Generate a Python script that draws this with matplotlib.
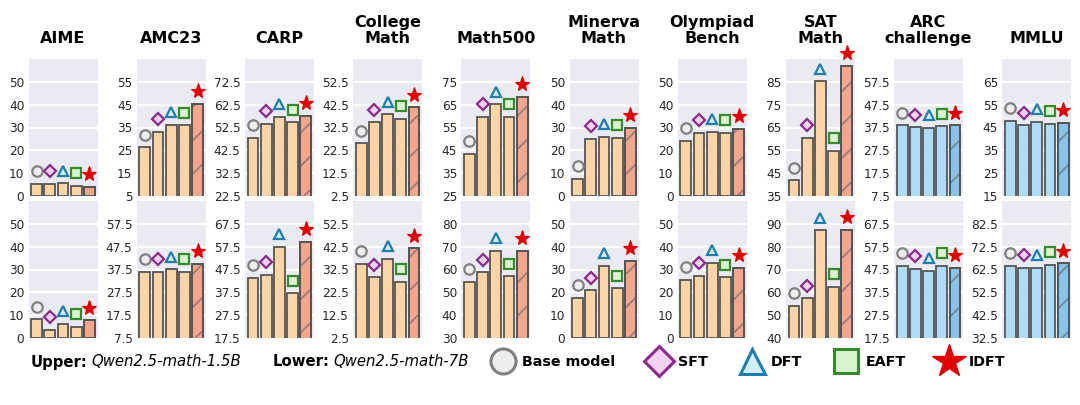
import matplotlib
matplotlib.use('Agg')
import matplotlib.pyplot as plt
import numpy as np
from matplotlib.lines import Line2D

methods = ['Base model', 'SFT', 'DFT', 'EAFT', 'IDFT']
benchmarks = ['AIME', 'AMC23', 'CARP', 'College\nMath', 'Math500', 'Minerva\nMath',
              'Olympiad\nBench', 'SAT\nMath', 'ARC\nchallenge', 'MMLU']
is_general = [False, False, False, False, False, False, False, False, True, True]

# Upper row: Qwen2.5-math-1.5B
upper_base = [5.4, 26.4, 47.9, 25.5, 43.6, 7.4, 24.1, 41.9, 38.4, 47.9]
upper_sft = [5.4, 33.1, 54.2, 34.8, 59.8, 25.1, 27.7, 60.4, 37.6, 45.9]
upper_dft = [5.5, 36.3, 57.3, 38.3, 65.1, 25.8, 28.1, 85.3, 37.4, 47.6]
upper_eaft = [4.5, 35.9, 54.8, 36.3, 59.8, 25.5, 27.8, 54.9, 38.1, 46.7]
upper_idft = [3.9, 45.4, 57.6, 41.4, 68.5, 30.0, 29.3, 92.0, 38.4, 47.0]

# Lower row: Qwen2.5-math-7B
lower_base = [8.2, 36.6, 43.9, 35.1, 54.5, 17.7, 25.6, 54.0, 49.2, 64.2]
lower_sft = [3.6, 36.6, 45.3, 29.0, 58.8, 20.9, 27.2, 57.4, 47.8, 63.3]
lower_dft = [6.3, 37.6, 57.4, 37.3, 68.3, 31.7, 33.0, 87.1, 46.9, 63.3]
lower_eaft = [4.9, 36.6, 37.1, 27.1, 57.1, 21.8, 26.5, 62.3, 49.2, 64.6]
lower_idft = [7.8, 40.1, 59.7, 41.8, 68.3, 33.7, 30.8, 87.4, 48.3, 65.2]

upper_ymin = [0, 5, 22.5, 2.5, 25, 0, 0, 35, 7.5, 15]
lower_ymin = [0, 7.5, 17.5, 2.5, 30, 0, 0, 40, 17.5, 32.5]
tick_step = 10
n_ticks = 6

upper_label = 'Qwen2.5-math-1.5B'
lower_label = 'Qwen2.5-math-7B'

# styles
math_color = '#FCD4A6'
math_idft_color = '#F3A68C'
gen_color = '#AEDCF6'
gen_idft_color = '#86C4EE'
bar_edge = '#555555'
hatch_color = (0.35, 0.35, 0.38, 0.55)
marker_styles = [
    dict(marker='o', mfc='#EEEEEE', mec='#808080'),
    dict(marker='D', mfc='#F4D2F2', mec='#8A2B8C'),
    dict(marker='^', mfc='#D2EEF8', mec='#1F7FAA'),
    dict(marker='s', mfc='#D9F3D0', mec='#358A2C'),
    dict(marker='*', mfc='#E00000', mec='#E00000'),
]
chart_ms = [7.5, 6.5, 7.5, 7.5, 11]
chart_mew = [1.6, 1.6, 1.6, 1.6, 0.8]
legend_ms = [18, 15, 18, 17, 25]

plt.rcParams['font.family'] = ['DejaVu Sans']
plt.rcParams['hatch.linewidth'] = 1.3

W, H = 1080, 405
fig = plt.figure(figsize=(W / 100, H / 100), dpi=100)

rows = [
    (upper_base, upper_sft, upper_dft, upper_eaft, upper_idft, upper_ymin),
    (lower_base, lower_sft, lower_dft, lower_eaft, lower_idft, lower_ymin),
]
row_top_px = [59, 201]
ax_h_px = 137
ax_w_px = 69
left0_px = 28.5
pitch_px = 108.2

x = np.arange(len(methods))
for r, (b, s, d, e, i, ymins) in enumerate(rows):
    for c, name in enumerate(benchmarks):
        left = (left0_px + c * pitch_px) / W
        bottom = 1 - (row_top_px[r] + ax_h_px) / H
        ax = fig.add_axes([left, bottom, ax_w_px / W, ax_h_px / H])
        vals = [b[c], s[c], d[c], e[c], i[c]]
        if is_general[c]:
            cols = [gen_color] * 4 + [gen_idft_color]
        else:
            cols = [math_color] * 4 + [math_idft_color]
        ax.bar(x, vals, width=0.82, color=cols, edgecolor=bar_edge, linewidth=1.3, zorder=2)
        ax.bar(x[4:], vals[4:], width=0.82, facecolor='none', edgecolor=hatch_color,
               hatch='/', linewidth=0, zorder=3)
        ax.bar(x[4:], vals[4:], width=0.82, facecolor='none', edgecolor=bar_edge,
               linewidth=1.3, zorder=3)
        lo = ymins[c]
        hi = lo + n_ticks * tick_step
        off = 0.092 * (hi - lo)
        for k in range(len(methods)):
            ax.plot([x[k]], [vals[k] + off], ls='none', ms=chart_ms[k], mew=chart_mew[k],
                    clip_on=False, zorder=6, **marker_styles[k])
        ax.set_ylim(lo, hi)
        ax.set_yticks([lo + t * tick_step for t in range(n_ticks)])
        ax.set_yticklabels([('%g' % (lo + t * tick_step)) for t in range(n_ticks)])
        ax.set_xlim(-0.62, 4.62)
        ax.set_xticks([])
        ax.set_facecolor('#EAEAF2')
        ax.grid(axis='y', color='white', linewidth=1.6, zorder=0)
        ax.set_axisbelow(True)
        for sp in ax.spines.values():
            sp.set_visible(False)
        ax.tick_params(axis='y', length=0, pad=3, labelsize=8.7, labelcolor='#262626')
        if r == 0:
            ax.set_title(name, fontsize=11.5, fontweight='bold', pad=11.5, linespacing=1.05)

# bottom caption
cy = 1 - 362 / H
renderer = fig.canvas.get_renderer()
def mixed(xpx, bold, ital):
    t1 = fig.text(xpx / W, cy, bold, fontsize=10.7, fontweight='bold', va='center', ha='left')
    bb = t1.get_window_extent(renderer)
    fig.text(bb.x1 / W + 4 / W, cy, ital, fontsize=10.7, fontstyle='italic', va='center', ha='left')
mixed(31, 'Upper:', upper_label)
mixed(273, 'Lower:', lower_label)

handles = [Line2D([], [], ls='none', ms=legend_ms[k], mew=2.2 if k < 4 else 1, **marker_styles[k])
           for k in range(len(methods))]
fig.legend(handles, methods, loc='center left', bbox_to_anchor=(492 / W, cy), ncol=5,
           frameon=False, prop={'weight': 'bold', 'size': 10.3}, handletextpad=0.6,
           columnspacing=2.3, borderaxespad=0, borderpad=0, handlelength=1.5)

fig.savefig('out.png', dpi=100, facecolor='white')
